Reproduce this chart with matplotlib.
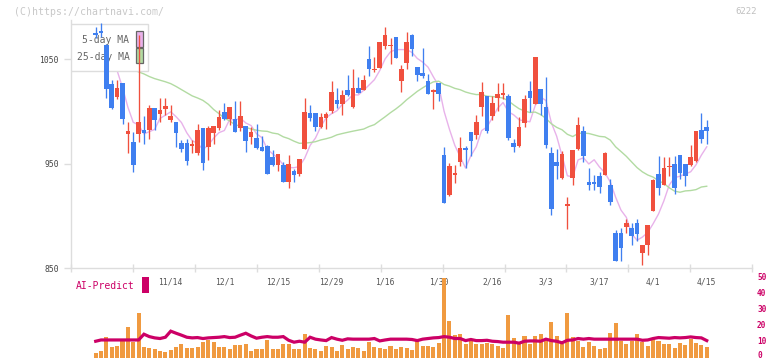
import numpy as np
import pandas as pd
import matplotlib
matplotlib.use("Agg")
import matplotlib.pyplot as plt
from matplotlib.patches import Rectangle

# ---------------- data ----------------
opens = [1075, 1077, 1064, 1026, 1014.3, 1027, 978.8, 970.9, 978.8, 982.7,
         982.7, 1003.4, 998, 1002.8, 992.2, 990, 969.9, 969.9, 967.6, 960.7,
         984.3, 966.1, 979.8, 984.3, 999.6, 992.9, 992.9, 984.3, 986.2, 975.7,
         974.7, 966.1, 967, 956.5, 949.2, 949.2, 932.9, 943.1, 940.6, 964.5,
         998.6, 998.6, 985.2, 993.8, 1000.5, 1010.7, 1007.5, 1020.6, 1004.4, 1022.5,
         1020.6, 1050.6, 1039.5, 1042, 1062.4, 1063, 1071.3, 1029.2, 1046.8, 1072.9,
         1042.6, 1036.9, 1029.2, 1019, 1027.3, 958.1, 920.5, 940.3, 951.7, 965.1,
         980.4, 977.2, 1004.4, 1014.9, 995.8, 1013.3, 1016.8, 1014.9, 970.2, 967,
         989.4, 1019.7, 1007.5, 1021.9, 1004.4, 960.3, 951.7, 936.4, 910.6, 936.4,
         964.5, 981.4, 932.6, 931.8, 938.3, 939, 930, 884.1, 884.1, 889.9,
         888.6, 893.4, 865, 872.6, 905.2, 940.3, 930, 946.5, 949.8, 958.7,
         949.8, 948.5, 952.4, 982.7, 985.2]
highs = [1081, 1085, 1065, 1030, 1030.2, 1027, 990, 980.4, 1073.6, 995.4,
         1006, 1003.4, 1013, 1013, 1006.6, 990, 973, 974, 972.5, 988.4,
         984.3, 985.9, 986.2, 1001.2, 1008.2, 1004.4, 1010.1, 1010.1, 986.2, 984.9,
         987.8, 976.6, 968, 963.5, 959.4, 951.7, 958.7, 945.3, 954.9, 1013,
         1006, 998.6, 998.6, 999.6, 1028.9, 1022.5, 1020.6, 1035.3, 1040.7, 1033.1,
         1034.7, 1062.7, 1052.2, 1066.6, 1081.2, 1070.4, 1071.3, 1044.9, 1076.1, 1073.9,
         1042.6, 1060.8, 1035.9, 1021.9, 1027.3, 966.1, 950.8, 948.5, 975.7, 967,
         980.4, 996.4, 1028.3, 1014.9, 1014.9, 1027.3, 1027.3, 1017.1, 974.1, 994.8,
         1016.1, 1029.2, 1052.2, 1021.9, 1033.1, 966.1, 964.5, 961.9, 918.2, 963.2,
         994.8, 986.2, 946, 939.6, 942.2, 961.3, 935.8, 886.4, 888.6, 897.5,
         893.4, 897.5, 872.6, 891.7, 935.8, 957.5, 956.5, 956.5, 957.5, 958.7,
         949.8, 968.3, 981.7, 998.9, 992.2]
lows = [1070, 1071, 1013, 1002, 1011.7, 988.4, 960.7, 942.2, 970.9, 969.3,
        974.1, 982.7, 990, 996.4, 990, 966, 961.3, 949.2, 960.7, 958.1,
        944.4, 954, 969.3, 982.7, 991.6, 987.5, 980.8, 981.7, 961.3, 969.3,
        963.8, 962.6, 940.6, 947.9, 943.4, 932.9, 927.2, 932.9, 938, 964.5,
        991, 981.1, 984.3, 983.6, 998.9, 1003.7, 997, 1014.9, 1003.7, 1018.1,
        1020.6, 1034, 1037.9, 1042, 1060.2, 1045.8, 1051.6, 1018.7, 1041, 1052.8,
        1029.2, 1032.1, 1017.1, 1002.8, 1010.1, 912.8, 919.2, 931.6, 947.9, 946,
        957.5, 973.4, 995.8, 979.8, 992.2, 1000.2, 1012.3, 973.1, 961.3, 966.1,
        985.2, 999.6, 1007.5, 997, 965.1, 900.7, 935.2, 935.8, 887.3, 929.4,
        962.9, 951.7, 924.6, 925.2, 922.4, 939, 910.3, 857.3, 857.3, 884.1,
        872.6, 876.4, 852.8, 863.1, 905.2, 920.5, 930, 938.3, 921.4, 935.2,
        928.8, 947.9, 951.7, 970.2, 969.3]
closes = [1073, 1075, 1022, 1003, 1022.5, 992.6, 981.4, 949.2, 990, 979.8,
          1003.4, 992.2, 1001.8, 1005.3, 996.1, 979.8, 964.5, 952.4, 968.2, 982.7,
          951.1, 984.3, 986.2, 994.8, 992.9, 1004.4, 980.8, 995.8, 971.5, 980.4,
          965.1, 962.6, 940.6, 949.2, 959.4, 932.9, 950.1, 939.6, 954.9, 999.6,
          993.8, 985.2, 994.8, 997.3, 1018.7, 1007.5, 1015.8, 1015.5, 1022.5, 1018.1,
          1029.9, 1041, 1041, 1066.6, 1073.6, 1063.6, 1051.6, 1041, 1066.6, 1060.2,
          1034.7, 1034, 1017.1, 1020, 1017.1, 912.8, 947.9, 940.6, 965.1, 963.5,
          971.8, 990, 1018.7, 981.7, 1008.5, 1017.1, 1017.1, 974.7, 966.4, 985.2,
          1011.7, 1013, 1052.2, 1007.5, 968.3, 906.4, 947.6, 959.4, 911, 963.2,
          987.5, 957.5, 930, 931.2, 928.1, 960.3, 913.4, 857.3, 869.4, 893.4,
          880.9, 883.2, 872.6, 891.7, 934.9, 927.2, 946.3, 948.2, 927.2, 941.5,
          938.3, 956.5, 981.7, 973.4, 981.4]

# 25-day MA for the first 24 sessions (depends on sessions before the chart)
ma25_head = [1058, 1055, 1052, 1049, 1046, 1044, 1042, 1040, 1038, 1036,
             1033.5, 1031.5, 1030, 1028.5, 1026.7, 1024, 1021, 1018, 1015, 1013,
             1010.7, 1007, 1002, 998]

volume = [2.7, 4, 12.7, 6.7, 7.3, 10.2, 19, 9.6, 27.7, 6.5,
          5.8, 5.4, 4, 3.3, 4.6, 6.5, 8.3, 6, 6, 6.7,
          9.6, 11, 9.6, 6.5, 6.5, 5.2, 7.7, 7.7, 8.3, 4,
          5.2, 5.2, 11, 5.2, 5.2, 8.3, 8.3, 5.2, 5.4, 14.6,
          5.8, 5.2, 4, 7, 6.5, 4, 7.7, 5.2, 6.5, 5.8,
          4, 9.6, 6.5, 6.2, 5.3, 7, 5.2, 6.5, 5.8, 4.6,
          10.2, 7, 7, 6.5, 9, 49.6, 22.7, 14, 14.6, 8.3,
          10.8, 8.3, 8.3, 9, 8.3, 7, 5.8, 26.5, 12, 8.3,
          13.3, 8.3, 13.3, 14.6, 10.2, 22, 13.3, 8.3, 27.7, 12.7,
          10.2, 6.5, 9.6, 7, 5.2, 5.8, 15.2, 21.5, 10.2, 8.3,
          10.2, 14.6, 9.6, 7, 11.5, 10.2, 8.3, 8.3, 5.8, 9,
          7.7, 11.5, 9, 7.7, 6.5]

ai_predict = [10.2, 11.0, 11.0, 11.0, 11.0, 11.0, 11.0, 11.0, 11.0, 14.6,
              13.1, 12.3, 11.9, 12.7, 16.5, 15.2, 14.0, 12.7, 12.3, 12.5,
              11.9, 12.3, 12.5, 12.7, 13.1, 12.5, 12.7, 14.0, 15.2, 13.5,
              12.1, 12.7, 13.1, 12.7, 12.7, 13.1, 10.8, 9.6, 10.2, 9.6,
              12.7, 11.5, 11.0, 10.6, 12.5, 11.5, 10.8, 11.7, 11.5, 11.5,
              11.5, 11.5, 11.9, 10.4, 11.0, 11.5, 11.5, 11.5, 11.5, 11.3,
              10.6, 11.5, 11.9, 12.3, 12.5, 13.1, 12.7, 11.9, 11.9, 10.6,
              11.3, 10.6, 10.6, 10.8, 10.2, 10.0, 9.6, 9.6, 9.6, 9.0,
              10.2, 10.4, 10.4, 10.2, 11.5, 10.6, 10.2, 9.2, 10.8, 11.0,
              11.9, 11.5, 11.9, 11.5, 11.5, 11.5, 11.5, 11.5, 11.5, 11.5,
              11.5, 11.5, 10.8, 11.0, 11.9, 12.5, 12.3, 12.1, 12.5, 12.3,
              12.5, 12.9, 12.5, 12.3, 10.6]

date_labels = ["11/14", "12/1", "12/15", "12/29", "1/16", "1/30",
               "2/16", "3/3", "3/17", "4/1", "4/15"]
date_label_idx = [14, 24, 34, 44, 54, 64, 74, 84, 94, 104, 114]

price_ticks = [850, 950, 1050]
vol_ticks = [0, 10, 20, 30, 40, 50]

n = len(closes)
assert len(opens) == n and len(highs) == n and len(lows) == n
assert len(volume) == n and len(ai_predict) == n

# ---------------- derived ----------------
o = np.array(opens, float)
h = np.array(highs, float)
l = np.array(lows, float)
c = np.array(closes, float)
x = np.arange(n)
cs = pd.Series(c)
ma5 = cs.rolling(5, min_periods=1).mean().values
ma25 = cs.rolling(25).mean().values
ma25[:len(ma25_head)] = ma25_head

RED = "#f0503e"
BLUE = "#3f7ff0"
PINK = "#e8b2ea"
GREEN = "#b2dba2"
ORANGE = "#f09a40"
MAGENTA = "#cc0066"
MONO = "DejaVu Sans Mono"

# ---------------- layout ----------------
W, H = 772, 361
fig = plt.figure(figsize=(W / 100, H / 100), dpi=100)
fig.patch.set_facecolor("white")


def fx(px):
    return px / W


def fy(py):
    return 1 - py / H


slot = 5.36           # pixels per session
first_px = 95.7       # pixel of first candle centre
left_px, right_px = 71.0, 752.3
xlim = ((left_px - first_px) / slot, (right_px - first_px) / slot)

ax = fig.add_axes([fx(left_px), fy(268.3), fx(right_px) - fx(left_px), fy(20) - fy(268.3)])
ax.set_xlim(*xlim)
ax.set_ylim(850, 850 + (268.3 - 20) / 1.045)
ax.patch.set_alpha(0)

# moving averages (behind legend box)
ax.plot(x, ma5, color=PINK, lw=1.0, zorder=1)
ax.plot(x, ma25, color=GREEN, lw=1.0, zorder=1)

# legend box
ax.add_patch(Rectangle((fx(70.3), fy(71.3)), fx(148.3) - fx(70.3), fy(24) - fy(71.3),
                       transform=fig.transFigure, facecolor="white", edgecolor="#dddddd",
                       lw=1.0, zorder=2))
ax.text(fx(129.5), fy(40), "5-day MA", transform=fig.transFigure, ha="right", va="center",
        fontsize=7, family=MONO, color="#666666", zorder=2.5)
ax.text(fx(129.5), fy(57), "25-day MA", transform=fig.transFigure, ha="right", va="center",
        fontsize=7, family=MONO, color="#666666", zorder=2.5)
ax.add_patch(Rectangle((fx(136.2), fy(46.7)), fx(142.7) - fx(136.2), fy(31) - fy(46.7),
                       transform=fig.transFigure, facecolor=PINK, edgecolor="#666666",
                       lw=0.9, zorder=2.5))
ax.add_patch(Rectangle((fx(136.2), fy(63.3)), fx(142.7) - fx(136.2), fy(48.3) - fy(63.3),
                       transform=fig.transFigure, facecolor=GREEN, edgecolor="#666666",
                       lw=0.9, zorder=2.5))

# candles
up = c >= o
cols = np.where(up, RED, BLUE)
ax.vlines(x, l, h, colors=cols, lw=0.95, zorder=3)
body_h = np.abs(c - o)
min_h = 1.6
mid = (o + c) / 2
bh = np.maximum(body_h, min_h)
ax.bar(x, bh, bottom=mid - bh / 2, width=0.86, color=cols, linewidth=0, zorder=3)

# axes styling
for s in ["top", "right"]:
    ax.spines[s].set_visible(False)
for s in ["left", "bottom"]:
    ax.spines[s].set_color("#dddddd")
    ax.spines[s].set_linewidth(1.0)

ax.set_yticks(price_ticks)
ax.set_yticklabels([str(t) for t in price_ticks], family=MONO, fontsize=5.8, color="#444444")
ax.tick_params(axis="y", length=4.8, width=1.0, color="#dddddd", pad=4)

ax.set_xticks(np.linspace(xlim[0], xlim[1], 12))
ax.set_xticklabels([])
ax.tick_params(axis="x", which="major", direction="inout", length=6, width=1.0, color="#dddddd")
ax.set_xticks(date_label_idx, minor=True)
ax.set_xticklabels(date_labels, minor=True, family=MONO, fontsize=5.8, color="#555555")
ax.tick_params(axis="x", which="minor", length=0, pad=6.5)

# volume / AI panel
ax2 = fig.add_axes([fx(left_px), fy(359), fx(right_px) - fx(left_px), fy(271) - fy(359)])
ax2.set_xlim(*xlim)
ax2.set_ylim(-0.9, 54.1)
ax2.patch.set_alpha(0)
ax2.bar(x, volume, width=0.75, color=ORANGE, linewidth=0, zorder=1)
ax2.plot(x, ai_predict, color=MAGENTA, lw=2.3, zorder=2, solid_joinstyle="miter")
for s in ax2.spines.values():
    s.set_visible(False)
ax2.set_xticks([])
ax2.set_yticks([])
# right-hand scale labels (the lowest one nudged up so it stays inside the image)
for v in vol_ticks:
    ax2.annotate(str(v), xy=(1, v), xycoords=("axes fraction", "data"),
                 xytext=(3.4, 1.6 if v == 0 else 0), textcoords="offset points",
                 ha="left", va="center", family=MONO, fontsize=5.6,
                 color=MAGENTA, fontweight="bold", annotation_clip=False)

# annotations
fig.text(fx(76), fy(286), "AI-Predict", family=MONO, fontsize=7, color=MAGENTA,
         ha="left", va="center")
fig.patches.append(Rectangle((fx(142), fy(292.7)), fx(148.7) - fx(142), fy(276.7) - fy(292.7),
                             transform=fig.transFigure, facecolor=MAGENTA, edgecolor="none",
                             figure=fig))
fig.text(fx(14), fy(12), "(C)https://chartnavi.com/", family=MONO, fontsize=7.1,
         color="#c8c8c8", ha="left", va="center")
fig.text(fx(757), fy(12), "6222", family=MONO, fontsize=6.5, color="#c0c0c0",
         ha="right", va="center")

fig.savefig("out.png", dpi=100, facecolor="white")
